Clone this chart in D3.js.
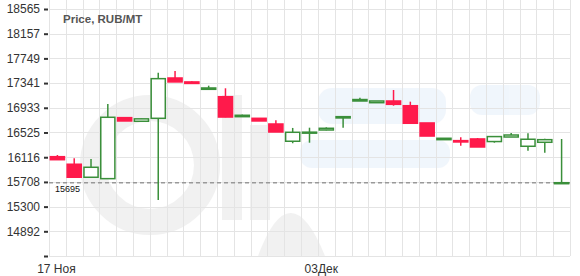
<!DOCTYPE html>
<html>
<head>
<meta charset="utf-8">
<script src="https://cdn.jsdelivr.net/npm/d3@7/dist/d3.min.js"></script>
<style>
  body { margin: 0; background: #fff; }
  svg { display: block; font-family: Arial, "Liberation Sans", sans-serif; }
</style>
</head>
<body>
<svg class="chart"></svg>
<script>
const W = 580;
const H = 276;

// Days, 17 Nov .. 17 Dec
var days = ["11-17","11-18","11-19","11-20","11-21","11-22","11-23","11-24","11-25","11-26",
            "11-27","11-28","11-29","11-30","12-01","12-02","12-03","12-04","12-05","12-06",
            "12-07","12-08","12-09","12-10","12-11","12-12","12-13","12-14","12-15","12-16","12-17"];
var open  = [16125,16000,15785,15762,16770,16710,16759,17425,17360,17238,17116,16786,16759,16665,16380,16520,
             16566,16765,17045,17017,17045,16967,16682,16406,16390,16418,16375,16450,16297,16363,15685];
var high  = [16153,16098,16087,16996,16770,16753,17513,17541,17370,17298,17255,16820,16759,16726,16600,16604,
             16610,16786,17100,17045,17227,17034,16682,16429,16446,16434,16457,16516,16512,16423,16417];
var low   = [16075,15785,15785,15762,16715,16710,15410,17360,17335,17238,16776,16786,16715,16533,16347,16356,
             16560,16604,17045,17017,16967,16677,16466,16406,16307,16285,16356,16450,16224,16191,15685];
var close = [16075,15785,15950,16776,16715,16750,17414,17360,17335,17260,16780,16809,16715,16533,16528,16530,
             16594,16786,17069,17045,16990,16677,16466,16429,16368,16285,16457,16483,16413,16406,15695];
var lastPrice = 15695;

var yTicks = [14484,14892,15300,15708,16116,16525,16933,17341,17749,18157,18565];
var yLabels = ["","14892","15300","15708","16116","16525","16933","17341","17749","18157","18565"];
var xLabels = [{day: "11-17", text: "17 Ноя"}, {day: "12-03", text: "03Дек"}];

var svg = d3.select('.chart')
    .attr("width", W)
    .attr("height", H);

var scaleX = d3.scaleBand().domain(days).range([49, 570]);
var scaleY = d3.scaleLinear().domain([14484, 18565]).range([256, 9]);

// Watermark (faded logo)
var wm = svg.append("g").attr("opacity", 0.05);
wm.append("circle").attr("cx", 150).attr("cy", 165).attr("r", 57)
    .attr("fill", "none").attr("stroke", "#000").attr("stroke-width", 26);
wm.append("rect").attr("x", 222).attr("y", 95).attr("width", 20).attr("height", 125).attr("fill", "#000");
wm.append("rect").attr("x", 250).attr("y", 125).attr("width", 20).attr("height", 95).attr("fill", "#000");
wm.append("path").attr("d", "M258,256 Q290,170 325,256 Z").attr("fill", "#000");
var wb = svg.append("g").attr("opacity", 0.06);
wb.append("rect").attr("x", 318).attr("y", 88).attr("width", 128).attr("height", 36).attr("rx", 14).attr("fill", "#1e6fd0");
wb.append("rect").attr("x", 300).attr("y", 140).attr("width", 150).attr("height", 28).attr("rx", 12).attr("fill", "#1e6fd0");
wb.append("rect").attr("x", 470).attr("y", 85).attr("width", 70).attr("height", 30).attr("rx", 12).attr("fill", "#1e6fd0");

// Grid
var grid = svg.append("g").attr("stroke", "#e4e4e4").attr("stroke-width", 1);
grid.selectAll(".vg").data(days.concat(["end"])).enter().append("line")
    .attr("x1", d => d === "end" ? 570.5 : Math.round(scaleX(d)) + 0.5)
    .attr("x2", d => d === "end" ? 570.5 : Math.round(scaleX(d)) + 0.5)
    .attr("y1", 0).attr("y2", 256);
grid.selectAll(".hg").data(yTicks).enter().append("line")
    .attr("x1", 49).attr("x2", 570)
    .attr("y1", d => Math.round(scaleY(d)) + 0.5)
    .attr("y2", d => Math.round(scaleY(d)) + 0.5);

// Y-axis
var yAxis = svg.append("g")
    .attr("transform", "translate(48,0)")
    .call(d3.axisLeft(scaleY).tickValues(yTicks).tickSize(4).tickPadding(4)
        .tickFormat((d, i) => yLabels[i]));
yAxis.select(".domain").remove();
yAxis.selectAll(".tick line").attr("stroke", "#333").attr("stroke-width", 2);
yAxis.selectAll(".tick text").attr("fill", "#333").style("font-size", "12px");

// X labels
svg.selectAll(".xl").data(xLabels).enter().append("text")
    .attr("x", d => scaleX(d.day) + scaleX.bandwidth() / 2 + (d.text === "03Дек" ? -5 : -1))
    .attr("y", 273)
    .attr("text-anchor", "middle")
    .attr("fill", "#333")
    .style("font-size", "12px")
    .text(d => d.text);

// Title
svg.append("text").attr("x", 63).attr("y", 23)
    .attr("fill", "#555").style("font-size", "11.5px").style("font-weight", "bold")
    .text("Price, RUB/MT");

// Last price line
svg.append("line")
    .attr("x1", 49).attr("x2", 570)
    .attr("y1", scaleY(lastPrice)).attr("y2", scaleY(lastPrice))
    .attr("stroke", "#999").attr("stroke-width", 1.5).attr("stroke-dasharray", "4,3");
svg.append("text").attr("x", 55).attr("y", 192)
    .attr("fill", "#111").style("font-size", "9px")
    .text(lastPrice);

// Candles
var RED = "#ff1a4b", GREEN = "#3a8f3a";
var bw = scaleX.bandwidth() * 0.84;
var c = svg.append("g").selectAll("g").data(days).enter().append("g");
c.append("line")
    .attr("x1", (d) => scaleX(d) + scaleX.bandwidth() / 2)
    .attr("x2", (d) => scaleX(d) + scaleX.bandwidth() / 2)
    .attr("y1", (d, i) => scaleY(high[i]))
    .attr("y2", (d, i) => scaleY(low[i]))
    .attr("stroke", (d, i) => close[i] >= open[i] ? GREEN : RED)
    .attr("stroke-width", 1.5);
c.append("rect")
    .attr("x", d => scaleX(d) + (scaleX.bandwidth() - bw) / 2)
    .attr("width", bw)
    .attr("y", (d, i) => scaleY(Math.max(open[i], close[i])))
    .attr("height", (d, i) => Math.max(1, scaleY(Math.min(open[i], close[i])) - scaleY(Math.max(open[i], close[i]))))
    .attr("fill", (d, i) => close[i] >= open[i] ? "#fff" : RED)
    .attr("stroke", (d, i) => close[i] >= open[i] ? GREEN : RED)
    .attr("stroke-width", 1.5);
</script>
</body>
</html>
